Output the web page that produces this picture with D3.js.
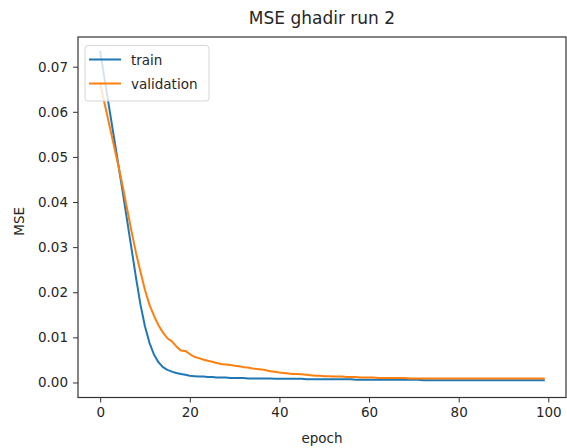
<!DOCTYPE html>
<html>
<head>
<meta charset="utf-8">
<script src="https://cdn.jsdelivr.net/npm/d3@7"></script>
<style>
  body { margin: 0; background: #fff; }
  text { font-family: "DejaVu Sans", sans-serif; fill: #262626; }
</style>
</head>
<body>
<svg width="567" height="448"></svg>
<script>
// chart data
var title = "MSE ghadir run 2";
var xLabel = "epoch";
var yLabel = "MSE";
var seriesNames = ["train", "validation"];
var seriesColors = ["#1f77b4", "#ff7f0e"];
var xTicks = [0, 20, 40, 60, 80, 100];
var yTicks = [0.00, 0.01, 0.02, 0.03, 0.04, 0.05, 0.06, 0.07];

var train = [
  0.0733, 0.0672, 0.0610, 0.0548, 0.0486, 0.0424, 0.0360, 0.0296, 0.0232, 0.0172,
  0.0124, 0.0088, 0.0062, 0.0045, 0.0034, 0.0028, 0.0024, 0.0021, 0.0019, 0.0017,
  0.0015, 0.0014, 0.0013, 0.0013, 0.0012, 0.0012, 0.0011, 0.0011, 0.0011, 0.0010,
  0.0010, 0.0010, 0.0010, 0.0009, 0.0009, 0.0009, 0.0009, 0.0009, 0.0009, 0.0008,
  0.0008, 0.0008, 0.0008, 0.0008, 0.0008, 0.0008, 0.0007, 0.0007, 0.0007, 0.0007,
  0.0007, 0.0007, 0.0007, 0.0007, 0.0007, 0.0007, 0.0007, 0.0006, 0.0006, 0.0006,
  0.0006, 0.0006, 0.0006, 0.0006, 0.0006, 0.0006, 0.0006, 0.0006, 0.0006, 0.0006,
  0.0006, 0.0006, 0.0005, 0.0005, 0.0005, 0.0005, 0.0005, 0.0005, 0.0005, 0.0005,
  0.0005, 0.0005, 0.0005, 0.0005, 0.0005, 0.0005, 0.0005, 0.0005, 0.0005, 0.0005,
  0.0005, 0.0005, 0.0005, 0.0005, 0.0005, 0.0005, 0.0005, 0.0005, 0.0005, 0.0005
];
var validation = [
  0.0663, 0.0618, 0.0573, 0.0528, 0.0483, 0.0436, 0.0385, 0.0335, 0.0287, 0.0245,
  0.0205, 0.0172, 0.0148, 0.0127, 0.0111, 0.0098, 0.0091, 0.0080, 0.0071, 0.0070,
  0.0063, 0.0057, 0.0054, 0.0051, 0.0048, 0.0046, 0.0043, 0.0041, 0.0040, 0.0039,
  0.0037, 0.0036, 0.0034, 0.0033, 0.0031, 0.0030, 0.0029, 0.0027, 0.0025, 0.0024,
  0.0022, 0.0021, 0.0020, 0.0019, 0.0019, 0.0018, 0.0017, 0.0016, 0.0015, 0.0015,
  0.0014, 0.0014, 0.0013, 0.0013, 0.0013, 0.0012, 0.0012, 0.0012, 0.0011, 0.0011,
  0.0011, 0.0011, 0.0010, 0.0010, 0.0010, 0.0010, 0.0010, 0.0010, 0.0010, 0.0009,
  0.0009, 0.0009, 0.0009, 0.0009, 0.0009, 0.0009, 0.0009, 0.0009, 0.0009, 0.0009,
  0.0009, 0.0009, 0.0009, 0.0009, 0.0009, 0.0009, 0.0009, 0.0009, 0.0009, 0.0009,
  0.0009, 0.0009, 0.0009, 0.0009, 0.0009, 0.0009, 0.0009, 0.0009, 0.0009, 0.0009
];

var svg = d3.select("svg");
var plotLeft = 78, plotRight = 566, plotTop = 37, plotBottom = 397.5;

// matplotlib style 5% margins round the data
var x = d3.scaleLinear().domain([-4.95, 103.95]).range([plotLeft, plotRight]);
var y = d3.scaleLinear().domain([-0.00333, 0.07658]).range([plotBottom, plotTop]);

// lines
var line = d3.line()
    .x(function(d, i) { return x(i); })
    .y(function(d) { return y(d); });

[train, validation].forEach(function(s, k) {
  svg.append("path")
    .datum(s)
    .attr("d", line)
    .attr("fill", "none")
    .attr("stroke", seriesColors[k])
    .attr("stroke-width", 2)
    .attr("stroke-linejoin", "round")
    .attr("stroke-linecap", "square");
});

// axes
var xAxis = svg.append("g")
    .attr("transform", "translate(0," + plotBottom + ")")
    .call(d3.axisBottom(x).tickValues(xTicks).tickSize(5).tickPadding(5).tickFormat(d3.format("d")));
var yAxis = svg.append("g")
    .attr("transform", "translate(" + plotLeft + ",0)")
    .call(d3.axisLeft(y).tickValues(yTicks).tickSize(5).tickPadding(5).tickFormat(d3.format(".2f")));
[xAxis, yAxis].forEach(function(a) {
  a.select(".domain").remove();
  a.selectAll("line").attr("stroke", "#333");
  a.selectAll("text").attr("font-size", "13.5px").attr("font-family", "DejaVu Sans").style("fill", "#262626");
});

// frame
svg.append("rect")
    .attr("x", plotLeft).attr("y", plotTop)
    .attr("width", plotRight - plotLeft).attr("height", plotBottom - plotTop)
    .attr("fill", "none").attr("stroke", "#333").attr("stroke-width", 1.2);

// titles
svg.append("text")
    .attr("x", (plotLeft + plotRight) / 2).attr("y", 24)
    .attr("text-anchor", "middle").attr("font-size", "17px")
    .text(title);
svg.append("text")
    .attr("x", (plotLeft + plotRight) / 2).attr("y", 443)
    .attr("text-anchor", "middle").attr("font-size", "13.5px")
    .text(xLabel);
svg.append("text")
    .attr("transform", "translate(24," + ((plotTop + plotBottom) / 2 + 4) + ") rotate(-90)")
    .attr("text-anchor", "middle").attr("font-size", "13.5px")
    .text(yLabel);

// legend
var legend = svg.append("g");
legend.append("rect")
    .attr("x", 85).attr("y", 45.5).attr("width", 124).attr("height", 55.5)
    .attr("rx", 3).attr("fill", "#fff").attr("fill-opacity", 0.8)
    .attr("stroke", "#d6d6d6");
seriesNames.forEach(function(n, k) {
  var ly = 59.5 + k * 24;
  legend.append("line")
    .attr("x1", 89).attr("x2", 121).attr("y1", ly).attr("y2", ly)
    .attr("stroke", seriesColors[k]).attr("stroke-width", 2);
  legend.append("text")
    .attr("x", 131).attr("y", ly + 5)
    .attr("font-size", "13.5px")
    .text(n);
});
</script>
</body>
</html>
